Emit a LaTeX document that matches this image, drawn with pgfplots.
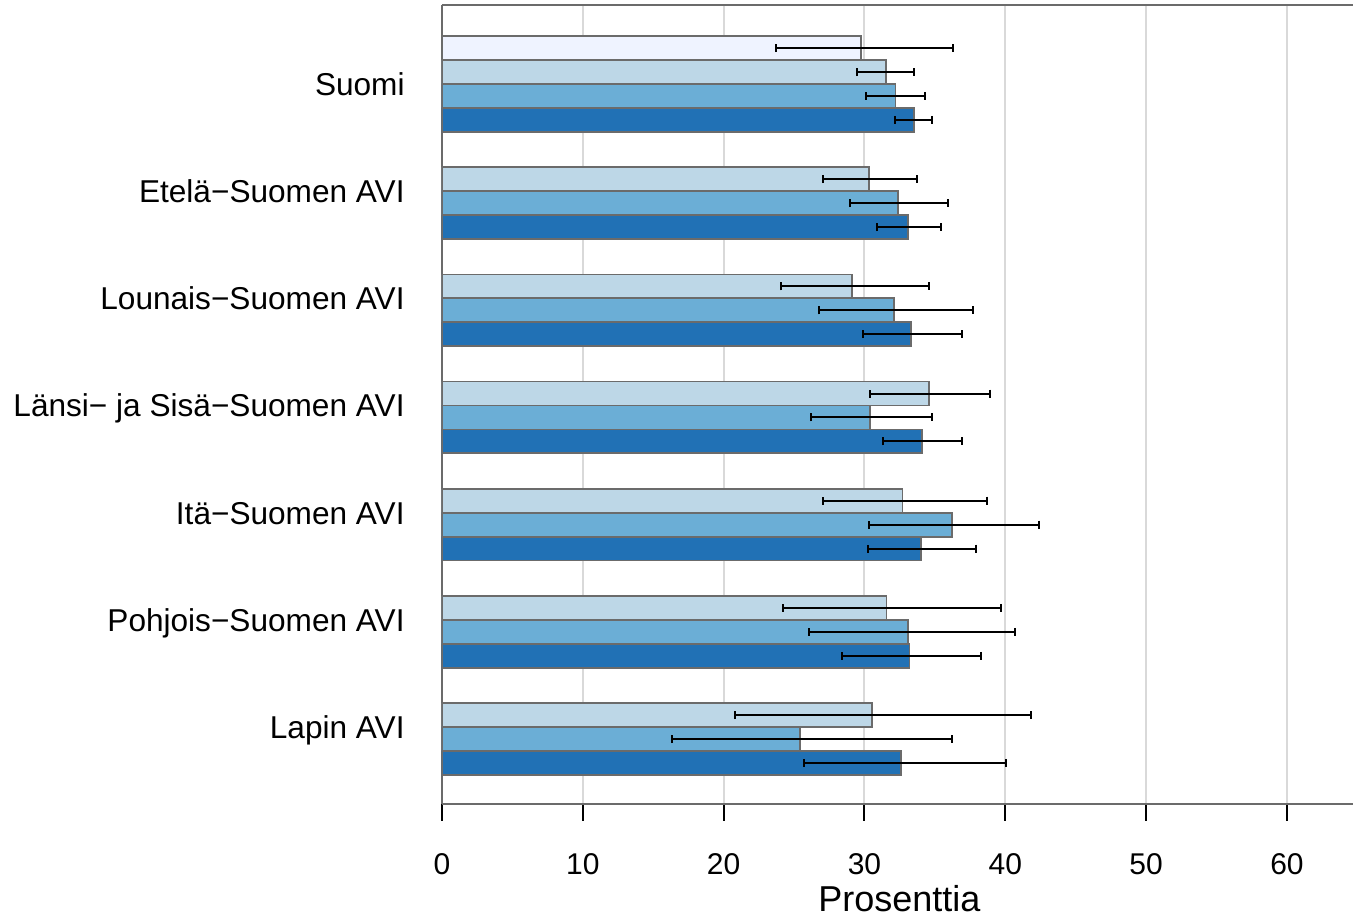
\documentclass[border=0pt]{standalone}
\usepackage{fontspec}
\setmainfont{Liberation Sans}
\usepackage{pgfplots}
\pgfplotsset{compat=1.18}
\usetikzlibrary{calc}

\definecolor{b0}{HTML}{EFF3FF}
\definecolor{b1}{HTML}{BDD7E7}
\definecolor{b2}{HTML}{6BAED6}
\definecolor{b3}{HTML}{2171B5}
\definecolor{edge}{HTML}{6B6B6B}
\definecolor{gridc}{HTML}{D9D9D9}

\begin{document}
\begin{tikzpicture}
\begin{axis}[
    name=ax,
    scale only axis,
    width=455.5pt, height=399.5pt,
    xbar,
    bar width=0.223,
    xmin=0, xmax=64.69,
    ymin=-0.718, ymax=6.737,
    axis x line*=box,
    axis y line*=left,
    axis line style={edge, line width=1pt},
    xtick={0,10,...,60},
    xtick pos=left,
    xtick align=outside,
    major tick length=8.5pt,
    xtick style={black, line width=1pt},
    ytick={0,...,6},
    yticklabels={Lapin AVI, Pohjois−Suomen AVI, Itä−Suomen AVI, Länsi− ja Sisä−Suomen AVI, Lounais−Suomen AVI, Etelä−Suomen AVI, Suomi},
    ytick style={draw=none},
    xmajorgrids,
    grid style={gridc, line width=1pt},
    /pgf/number format/assume math mode=true,
    tick label style={font=\fontsize{15}{18}\selectfont, inner sep=0pt},
    xticklabel style={anchor=north, yshift=-16pt},
    yticklabel style={font=\fontsize{15.8}{19}\selectfont, anchor=base east, xshift=-10pt, yshift=-5.66pt},
    every axis x label/.style={at={(rel axis cs:0.502,0)}, anchor=base, yshift=-54pt, font=\fontsize{18}{21}\selectfont},
    xlabel={Prosenttia},
    error bars/x dir=both,
    error bars/x explicit,
    error bars/error bar style={black, line width=1pt},
    error bars/error mark options={black, line width=1pt, mark size=2pt, rotate=90},
]
% lightest: only Suomi
\addplot[fill=b0, draw=edge, line width=0.9pt, bar shift=0.335] coordinates {
    (29.75,6) += (6.53,0) -= (6.03,0)
};
\addplot[fill=b1, draw=edge, line width=0.9pt, bar shift=0.1117] coordinates {
    (31.53,6) += (1.97,0) -= (2.03,0)
    (30.32,5) += (3.38,0) -= (3.24,0)
    (29.09,4) += (5.51,0) -= (4.99,0)
    (34.60,3) += (4.30,0) -= (4.21,0)
    (32.70,2) += (6.00,0) -= (5.62,0)
    (31.57,1) += (8.13,0) -= (7.38,0)
    (30.51,0) += (11.29,0) -= (9.73,0)
};
\addplot[fill=b2, draw=edge, line width=0.9pt, bar shift=-0.1117] coordinates {
    (32.20,6) += (2.10,0) -= (2.12,0)
    (32.38,5) += (3.52,0) -= (3.41,0)
    (32.10,4) += (5.60,0) -= (5.30,0)
    (30.39,3) += (4.41,0) -= (4.21,0)
    (36.20,2) += (6.20,0) -= (5.90,0)
    (33.09,1) += (7.57,0) -= (7.01,0)
    (25.42,0) += (10.77,0) -= (9.12,0)
};
\addplot[fill=b3, draw=edge, line width=0.9pt, bar shift=-0.335] coordinates {
    (33.54,6) += (1.26,0) -= (1.37,0)
    (33.10,5) += (2.30,0) -= (2.21,0)
    (33.30,4) += (3.60,0) -= (3.40,0)
    (34.10,3) += (2.80,0) -= (2.80,0)
    (34.00,2) += (3.90,0) -= (3.73,0)
    (33.20,1) += (5.07,0) -= (4.80,0)
    (32.60,0) += (7.45,0) -= (6.90,0)
};
\end{axis}
\pgfresetboundingbox
\path[use as bounding box] ($(ax.south west)+(-221pt,-57pt)$) rectangle ($(ax.north east)+(0pt,2.5pt)$);
\end{tikzpicture}
\end{document}
